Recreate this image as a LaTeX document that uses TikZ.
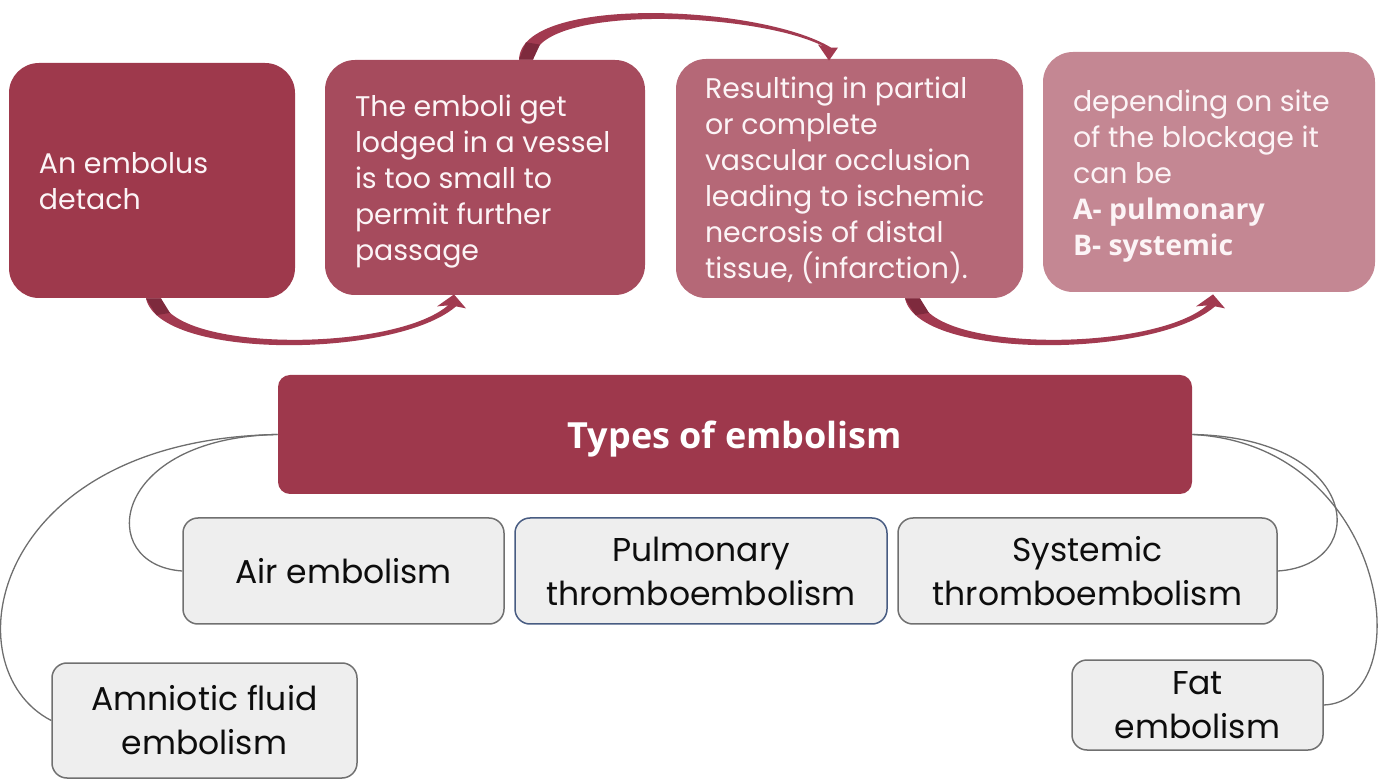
\documentclass[tikz,border=0pt]{standalone}
\usepackage{fontspec}
\setmainfont{Poppins}
\newfontfamily\boldfont{Open Sans}
\usetikzlibrary{calc}
\definecolor{cA}{RGB}{158,57,76}
\definecolor{cB}{RGB}{166,75,93}
\definecolor{cC}{RGB}{181,104,119}
\definecolor{cD}{RGB}{196,135,147}
\definecolor{cT}{RGB}{158,56,76}
\definecolor{arr}{RGB}{162,58,80}
\definecolor{arrdark}{RGB}{126,42,61}
\definecolor{boxfill}{RGB}{238,238,238}
\definecolor{boxline}{RGB}{112,112,112}
\definecolor{pulline}{RGB}{72,92,130}
\definecolor{conn}{RGB}{110,110,110}
\definecolor{wtext}{RGB}{252,244,246}
\definecolor{btext}{RGB}{13,13,13}
\begin{document}
\begin{tikzpicture}[x=0.5pt,y=-0.5pt,
  topbox/.style={rounded corners=15pt, inner sep=0pt, draw=none},
  toptext/.style={anchor=west, inner sep=0pt, align=left, text=wtext,
    font=\fontsize{14.2}{18}\selectfont},
  subbox/.style={rounded corners=7.5pt, fill=boxfill, draw=boxline, line width=0.75pt,
    inner sep=0pt, align=center, text=btext, font=\fontsize{16.5}{22}\selectfont},
  connector/.style={draw=conn, line width=0.65pt}]
\useasboundingbox (0,0) rectangle (1380,779);

% top process boxes
\node[topbox, fill=cA, minimum width=143pt, minimum height=117.5pt] (b1) at (152,180.5) {};
\node[topbox, fill=cB, minimum width=160pt, minimum height=117.5pt] (b2) at (485,177.5) {};
\node[topbox, fill=cC, minimum width=173.5pt, minimum height=119.5pt] (b3) at (849.5,178.5) {};
\node[topbox, fill=cD, minimum width=166pt, minimum height=120pt] (b4) at (1209,172) {};

\node[toptext] (t1) at ([xshift=15pt,yshift=-0.5pt]b1.west) {An embolus\\detach};
\node[toptext] (t2) at ([xshift=15pt,yshift=-2pt]b2.west) {The emboli get\\lodged in a vessel\\is too small to\\permit further\\passage};
\node[toptext] (t3) at ([xshift=14.5pt,yshift=-1pt]b3.west) {Resulting in partial\\or complete\\vascular occlusion\\leading to ischemic\\necrosis of distal\\tissue, (infarction).};
\node[toptext] (t4) at ([xshift=15pt,yshift=-2pt]b4.west) {depending on site\\of the blockage it\\can be\\{\boldfont\bfseries A- pulmonary}\\{\boldfont\bfseries B- systemic}};

% curved arrows
\coordinate (a1s) at ($(b1.south)+(-6,0)$);
\coordinate (a1t) at ($(b2.south)+(-31,-1)$);
\fill[arr] (a1s) .. controls +(14,62) and +(-60,52) .. ($(a1t)+(2,12)$)
  -- ($(a1t)+(12,14)$) -- (a1t) -- ($(a1t)+(-17,12)$) -- ($(a1t)+(-6,11)$)
  .. controls +(-55,47) and +(11,54) .. ($(a1s)+(15,0)$) -- cycle;
\fill[arrdark] (a1s) -- ($(a1s)+(15,0)$) -- ($(a1s)+(24,14.5)$) -- ($(a1s)+(10.5,16.7)$) -- cycle;

\coordinate (a3s) at ($(b3.south)+(55.5,0)$);
\coordinate (a3t) at ($(b4.south)+(4,2)$);
\fill[arr] (a3s) .. controls +(14,62) and +(-60,52) .. ($(a3t)+(2,12)$)
  -- ($(a3t)+(12,14)$) -- (a3t) -- ($(a3t)+(-17,12)$) -- ($(a3t)+(-6,11)$)
  .. controls +(-55,47) and +(11,54) .. ($(a3s)+(15,0)$) -- cycle;
\fill[arrdark] (a3s) -- ($(a3s)+(15,0)$) -- ($(a3s)+(24,14.5)$) -- ($(a3s)+(10.5,16.7)$) -- cycle;

\coordinate (a2s) at ($(b2.north)+(34,0)$);
\coordinate (a2t) at ($(b3.north)+(-20.5,2)$);
\fill[arr] (a2s) .. controls +(2,-65) and +(-71,-43) .. ($(a2t)+(2,-13)$)
  -- ($(a2t)+(9,-13)$) -- (a2t) -- ($(a2t)+(-11,-16)$) -- ($(a2t)+(-5,-14)$)
  .. controls +(-67,-35) and +(3,-56) .. ($(a2s)+(14,0)$) -- cycle;
\fill[arrdark] (a2s) -- ($(a2s)+(14,0)$) -- ($(a2s)+(21,-15)$) -- ($(a2s)+(7,-17.3)$) -- cycle;

% types box
\node[rounded corners=6pt, fill=cT, minimum width=457pt, minimum height=59.5pt, inner sep=0pt,
  text=white, font=\boldfont\bfseries\fontsize{18}{21}\selectfont] (ty) at (735,434.5) {};
\node[text=white, inner sep=0pt, font=\boldfont\bfseries\fontsize{18}{21}\selectfont]
  (tyt) at ([yshift=-2.5pt]ty.center) {Types of embolism};

% sub boxes
\node[subbox, minimum width=160.5pt, minimum height=53pt] (air) at (343.5,571) {Air embolism};
\node[subbox, draw=pulline, minimum width=186pt, minimum height=53pt] (pul) at (701,571) {Pulmonary\\thromboembolism};
\node[subbox, minimum width=189.5pt, minimum height=53pt] (sys) at (1087.5,571) {Systemic\\thromboembolism};
\node[subbox, minimum width=152.5pt, minimum height=57.5pt] (amn) at (204.5,720.5) {Amniotic fluid\\embolism};
\node[subbox, minimum width=125.5pt, minimum height=45pt] (fat) at (1197.5,705) {Fat\\embolism};

% connectors
\draw[connector] (ty.west) .. controls +(-168,3) and +(-88,-6) .. (air.west);
\draw[connector] (ty.west) .. controls +(-288,5) and +(-102,-52.5) .. (amn.west);
\draw[connector] (ty.east) .. controls +(168,3) and +(95,-6) .. (sys.east);
\draw[connector] (ty.east) .. controls +(198,10) and +(97,-4) .. (fat.east);
\end{tikzpicture}
\end{document}
